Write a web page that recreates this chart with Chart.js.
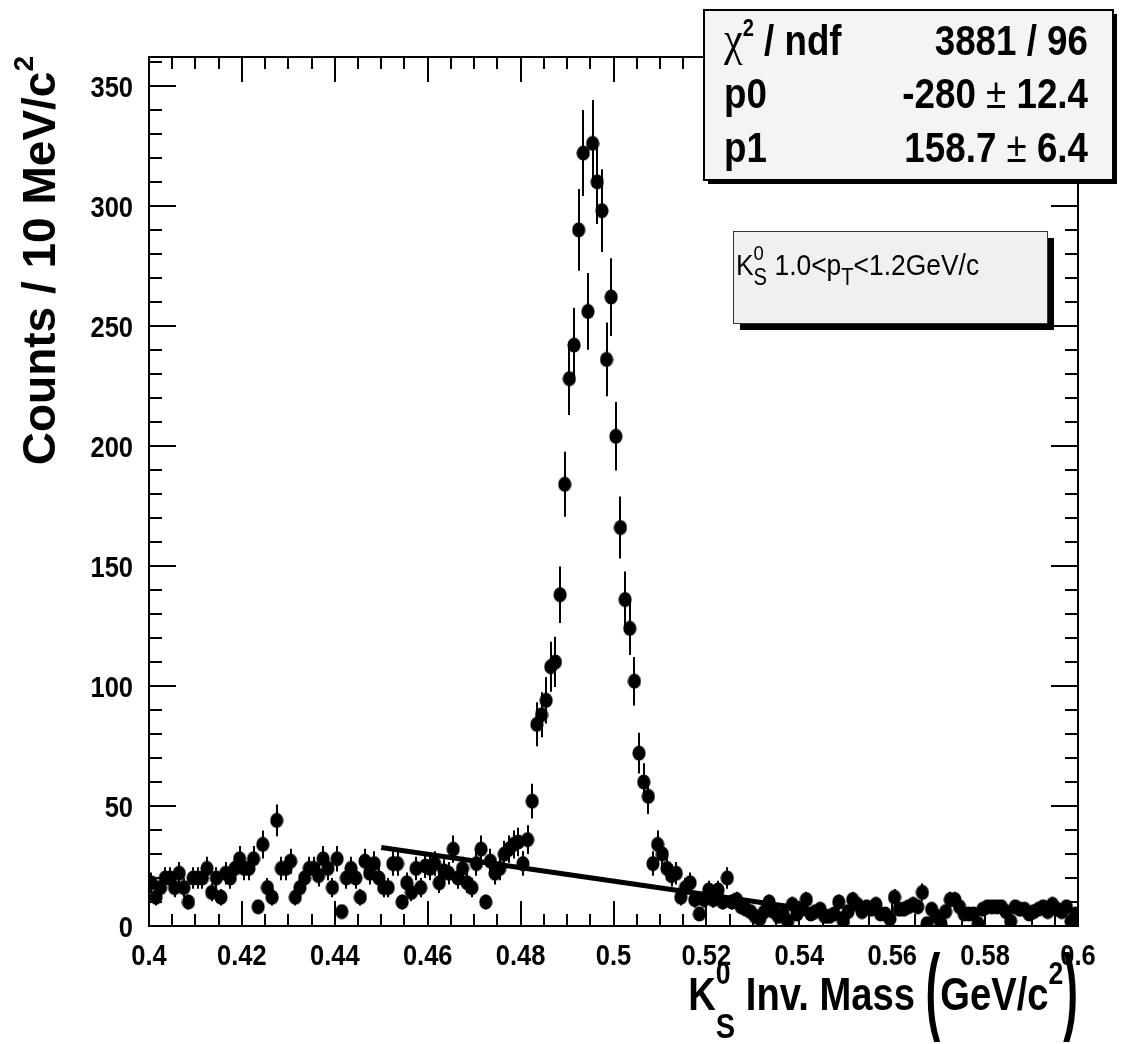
<!DOCTYPE html>
<html>
<head>
<meta charset="utf-8">
<script src="https://cdn.jsdelivr.net/npm/chart.js@4.4.1/dist/chart.umd.min.js"></script>
<style>
  html, body { margin: 0; padding: 0; background: #fff; }
  #wrap { width: 1121px; height: 1044px; }
</style>
</head>
<body>
<div id="wrap"><canvas id="chart" width="1121" height="1044"></canvas></div>
<script>
// K0s invariant mass, 1 MeV bins from 0.400 to 0.600 GeV/c^2
const binLow = 0.4;
const binWidth = 0.001;
const counts = [
  18, 12, 16, 20, 20, 16, 22, 16, 10, 20,
  20, 20, 24, 14, 20, 12, 22, 20, 24, 28,
  24, 24, 28, 8, 34, 16, 12, 44, 24, 24,
  27, 12, 16, 20, 24, 24, 21, 28, 24, 16,
  28, 6, 20, 24, 20, 12, 27, 22, 26, 20,
  16, 16, 26, 26, 10, 18, 14, 24, 16, 25,
  24, 26, 18, 23, 22, 32, 20, 24, 18, 16,
  26, 32, 10, 27, 22, 24, 30, 32, 34, 35,
  26, 36, 52, 84, 88, 94, 108, 110, 138, 184,
  228, 242, 290, 322, 256, 326, 310, 298, 236, 262,
  204, 166, 136, 124, 102, 72, 60, 54, 26, 34,
  30, 24, 21, 22, 12, 16, 18, 11, 5, 11,
  15, 11, 15, 10, 20, 10, 11, 8, 7, 6,
  4, 3, 6, 10, 6, 4, 5, 2, 9, 5,
  7, 11, 5, 6, 7, 4, 4, 5, 10, 2,
  6, 11, 9, 6, 8, 7, 9, 5, 5, 3,
  12, 7, 7, 8, 9, 8, 14, 1, 7, 4,
  1, 6, 11, 11, 8, 5, 5, 5, 1, 7,
  8, 8, 8, 8, 6, 2, 8, 7, 7, 5,
  6, 7, 8, 6, 9, 7, 6, 8, 2, 5
];

// linear background fit drawn over the fit range
const fitX = [0.45, 0.55];
const fitY = [32.7, 4.7];

const xTicks = [0.4, 0.42, 0.44, 0.46, 0.48, 0.5, 0.52, 0.54, 0.56, 0.58, 0.6];
const yTicks = [0, 50, 100, 150, 200, 250, 300, 350];
const xMinorStep = 0.005;
const yMinorStep = 10;

const statLabels = ['/ ndf', 'p0', 'p1'];
const statValues = ['3881 / 96', '-280', '158.7'];
const statErrors = ['', '12.4', '6.4'];

const FONT = "'Liberation Sans', Arial, sans-serif";

const binCenters = counts.map((c, i) => +(binLow + (i + 0.5) * binWidth).toFixed(4));
const points = counts.map((c, i) => ({ x: binCenters[i], y: c }));
const fitPoints = fitX.map((x, i) => ({ x: x, y: fitY[i] }));

// ROOT style filled marker, slightly taller than wide
const marker = document.createElement('canvas');
marker.width = 14;
marker.height = 16;
const mctx = marker.getContext('2d');
mctx.fillStyle = '#000';
mctx.beginPath();
mctx.ellipse(7, 8, 6.6, 7.6, 0, 0, Math.PI * 2);
mctx.fill();

// draw a run of text pieces with super/subscripts; p.stack puts a piece under the previous one
function drawRich(ctx, parts, x, y, o) {
  const fontOf = p => `${p.w || o.weight} ${Math.round(o.size * (p.k || 1))}px ${p.f || FONT}`;
  let total = 0, prev = null;
  parts.forEach(p => {
    ctx.font = fontOf(p);
    p.width = ctx.measureText(p.t).width * (p.sx || 1);
    if (p.stack && prev) {
      total += Math.max(0, p.width - prev.width);
    } else {
      total += p.width;
    }
    prev = p;
  });
  let x0 = x;
  if (o.align === 'right') x0 = x - total * o.sx;
  if (o.align === 'center') x0 = x - total * o.sx / 2;
  ctx.save();
  ctx.translate(x0, y);
  ctx.scale(o.sx, 1);
  ctx.fillStyle = '#000';
  ctx.textAlign = 'left';
  ctx.textBaseline = 'alphabetic';
  let cx = 0;
  prev = null;
  parts.forEach(p => {
    ctx.font = fontOf(p);
    let px = cx;
    if (p.stack && prev) px = cx - prev.width;
    ctx.save();
    ctx.translate(px, p.dy || 0);
    ctx.scale(p.sx || 1, 1);
    ctx.fillText(p.t, 0, 0);
    ctx.restore();
    if (p.stack && prev) {
      cx = px + Math.max(prev.width, p.width);
    } else {
      cx += p.width;
    }
    prev = p;
  });
  ctx.restore();
}

const errorBars = {
  id: 'errorBars',
  beforeDatasetsDraw(chart) {
    const { ctx, scales: { x, y } } = chart;
    ctx.save();
    ctx.strokeStyle = '#000';
    ctx.lineWidth = 2;
    ctx.beginPath();
    counts.forEach((c, i) => {
      const err = Math.sqrt(c);
      const px = Math.round(x.getPixelForValue(binCenters[i]));
      ctx.moveTo(px, y.getPixelForValue(c - err));
      ctx.lineTo(px, y.getPixelForValue(c + err));
    });
    ctx.stroke();
    ctx.restore();
  }
};

const frameAndTicks = {
  id: 'frameAndTicks',
  afterDatasetsDraw(chart) {
    const { ctx, chartArea: a, scales: { x, y } } = chart;
    ctx.save();
    ctx.strokeStyle = '#000';
    ctx.lineWidth = 2;
    ctx.strokeRect(a.left, a.top, a.right - a.left, a.bottom - a.top);
    ctx.beginPath();
    const nx = Math.round((x.max - x.min) / xMinorStep);
    for (let k = 0; k <= nx; k++) {
      const px = Math.round(x.getPixelForValue(x.min + k * xMinorStep));
      const len = k % 4 === 0 ? 25 : 12;
      ctx.moveTo(px, a.bottom); ctx.lineTo(px, a.bottom - len);
      ctx.moveTo(px, a.top); ctx.lineTo(px, a.top + len);
    }
    for (let v = 0; v <= y.max; v += yMinorStep) {
      const py = Math.round(y.getPixelForValue(v));
      const len = v % 50 === 0 ? 27 : 13;
      ctx.moveTo(a.left, py); ctx.lineTo(a.left + len, py);
      ctx.moveTo(a.right, py); ctx.lineTo(a.right - len, py);
    }
    ctx.stroke();
    ctx.restore();

    // tick labels, condensed bold like the ROOT output
    const lo = { size: 30, weight: 'bold', sx: 0.85, align: 'center' };
    x.ticks.forEach(t => {
      drawRich(ctx, [{ t: String(+t.value.toFixed(2)) }], x.getPixelForValue(t.value), 965, lo);
    });
    const lr = Object.assign({}, lo, { align: 'right' });
    y.ticks.forEach(t => {
      drawRich(ctx, [{ t: String(t.value) }], 133, y.getPixelForValue(t.value) + 11, lr);
    });
  },
  afterDraw(chart) {
    const { ctx } = chart;
    ctx.save();

    // fit statistics box
    ctx.fillStyle = '#000';
    ctx.fillRect(708, 14, 409, 170);
    ctx.fillStyle = '#f4f4f4';
    ctx.fillRect(704, 10, 409, 170);
    ctx.strokeStyle = '#000';
    ctx.lineWidth = 2;
    ctx.strokeRect(704, 10, 409, 170);

    const so = { size: 42, weight: 'bold', sx: 0.875, align: 'left' };
    const rowY = [55, 108, 162];
    drawRich(ctx, [
      { t: '\u03C7', f: "'Liberation Serif', serif", w: 'normal', k: 1.15 },
      { t: '2', k: 0.55, dy: -19 },
      { t: ' ' + statLabels[0] }
    ], 724, rowY[0], so);
    drawRich(ctx, [{ t: statLabels[1] }], 724, rowY[1], so);
    drawRich(ctx, [{ t: statLabels[2] }], 724, rowY[2], so);
    const ro = Object.assign({}, so, { align: 'right' });
    statValues.forEach((v, i) => {
      const parts = statErrors[i]
        ? [{ t: v + ' ' }, { t: '\u00B1', w: 'normal' }, { t: ' ' + statErrors[i] }]
        : [{ t: v }];
      drawRich(ctx, parts, 1088, rowY[i], ro);
    });

    // pT bin label
    ctx.fillStyle = '#000';
    ctx.fillRect(740, 238, 314, 92);
    ctx.fillStyle = '#f0f0f0';
    ctx.fillRect(733, 231, 314, 92);
    ctx.lineWidth = 1;
    ctx.strokeStyle = '#333';
    ctx.strokeRect(733.5, 231.5, 314, 92);
    drawRich(ctx, [
      { t: 'K' },
      { t: '0', k: 0.7, dy: -15 },
      { t: 'S', k: 0.75, dy: 10, stack: true },
      { t: ' 1.0<p' },
      { t: 'T', k: 0.75, dy: 10 },
      { t: '<1.2GeV/c' }
    ], 736, 275, { size: 30, weight: 'normal', sx: 0.88, align: 'left' });

    // x axis title
    drawRich(ctx, [
      { t: 'K' },
      { t: '0', k: 0.7, dy: -26 },
      { t: 'S', k: 0.75, dy: 28, stack: true },
      { t: ' Inv. Mass ' },
      { t: '(', k: 2.1, sx: 0.55, dy: 12 },
      { t: 'GeV/c' },
      { t: '2', k: 0.7, dy: -26 },
      { t: ')', k: 2.1, sx: 0.55, dy: 12 }
    ], 1078, 1010, { size: 46, weight: 'bold', sx: 0.83, align: 'right' });

    // y axis title
    ctx.save();
    ctx.translate(55, 56);
    ctx.rotate(-Math.PI / 2);
    drawRich(ctx, [
      { t: 'Counts / 10 MeV/c' },
      { t: '2', k: 0.6, dy: -22 }
    ], 0, 0, { size: 46, weight: 'bold', sx: 1, align: 'right' });
    ctx.restore();

    ctx.restore();
  }
};

new Chart(document.getElementById('chart').getContext('2d'), {
  type: 'scatter',
  data: {
    datasets: [
      {
        label: 'K0s',
        data: points,
        pointStyle: marker,
        pointRadius: 7,
        pointBackgroundColor: '#000',
        pointBorderColor: '#000'
      },
      {
        label: 'fit',
        data: fitPoints,
        showLine: true,
        borderColor: '#000',
        borderWidth: 5,
        pointRadius: 0
      }
    ]
  },
  options: {
    responsive: false,
    animation: false,
    layout: { padding: { top: 57, right: 43, left: 0, bottom: 0 } },
    plugins: { legend: { display: false }, tooltip: { enabled: false } },
    scales: {
      x: {
        type: 'linear',
        min: 0.4,
        max: 0.6,
        afterBuildTicks: s => { s.ticks = xTicks.map(v => ({ value: v })); },
        afterFit: s => { s.height = 118; },
        grid: { display: false, drawTicks: false },
        border: { display: false },
        ticks: { display: false }
      },
      y: {
        type: 'linear',
        min: 0,
        max: 362,
        afterBuildTicks: s => { s.ticks = yTicks.map(v => ({ value: v })); },
        afterFit: s => { s.width = 149; },
        grid: { display: false, drawTicks: false },
        border: { display: false },
        ticks: { display: false }
      }
    }
  },
  plugins: [errorBars, frameAndTicks]
});
</script>
</body>
</html>
